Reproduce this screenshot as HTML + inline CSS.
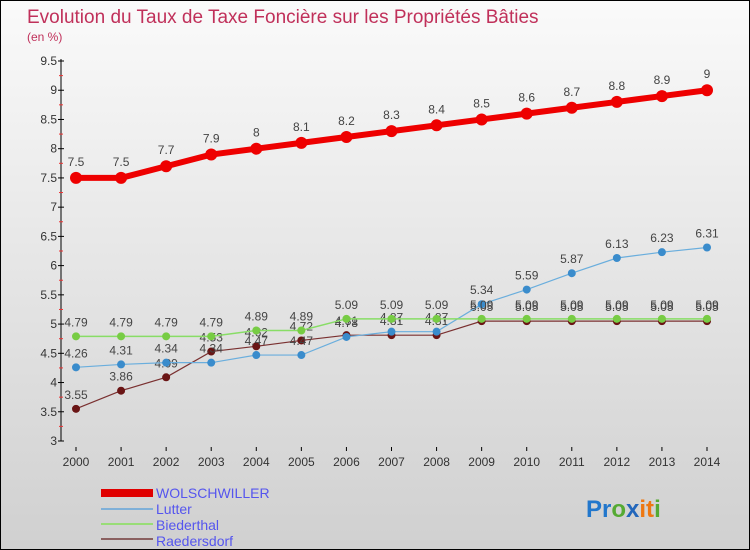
<!DOCTYPE html>
<html><head><meta charset="utf-8"><style>
body{margin:0}
#c{width:748px;height:548px;border:1px solid #000;background:linear-gradient(#fafafa,#d0d0d0);position:relative;overflow:hidden;font-family:"Liberation Sans",sans-serif}
</style></head><body>
<div id="c">
<svg id="s" width="748" height="548">
<text x="26" y="22" font-size="19" fill="#c0305a">Evolution du Taux de Taxe Foncière sur les Propriétés Bâties</text>
<text x="26" y="40" font-size="12" fill="#c0305a">(en %)</text>
<g id="ax"></g><g id="ser"></g>
<g>
<rect x="100" y="488" width="52" height="8" fill="#e00000"/>
<text x="155" y="497" font-size="14" fill="#5555ee">WOLSCHWILLER</text>
<rect x="100" y="507" width="52" height="2" fill="#7fb0d8"/>
<text x="155" y="513" font-size="14" fill="#5555ee">Lutter</text>
<rect x="100" y="522" width="52" height="2" fill="#99dd77"/>
<text x="155" y="529" font-size="14" fill="#5555ee">Biederthal</text>
<rect x="100" y="537" width="52" height="2" fill="#8a6060"/>
<text x="155" y="545" font-size="14" fill="#5555ee">Raedersdorf</text>
</g>
<text x="585" y="516" font-size="24" font-weight="bold"><tspan fill="#2277cc">Pr</tspan><tspan fill="#55aa33">o</tspan><tspan fill="#2266bb">x</tspan><tspan fill="#ee7711">it</tspan><tspan fill="#55aa33">i</tspan></text>
</svg></div>
<script>
const years=[2000,2001,2002,2003,2004,2005,2006,2007,2008,2009,2010,2011,2012,2013,2014];
const yTicks=[3,3.5,4,4.5,5,5.5,6,6.5,7,7.5,8,8.5,9,9.5];
const wolschwiller=[7.5,7.5,7.7,7.9,8,8.1,8.2,8.3,8.4,8.5,8.6,8.7,8.8,8.9,9];
const lutter=[4.26,4.31,4.34,4.34,4.47,4.47,4.78,4.87,4.87,5.34,5.59,5.87,6.13,6.23,6.31];
const biederthal=[4.79,4.79,4.79,4.79,4.89,4.89,5.09,5.09,5.09,5.09,5.09,5.09,5.09,5.09,5.09];
const raedersdorf=[3.55,3.86,4.09,4.53,4.62,4.72,4.81,4.81,4.81,5.05,5.05,5.05,5.05,5.05,5.05];
const NS="http://www.w3.org/2000/svg";
const X=i=>75+i*(706-75)/14, Y=v=>440-(v-3)*(380/6.5);
function mk(p,t,a){const e=document.createElementNS(NS,t);for(const k in a)e.setAttribute(k,a[k]);p.appendChild(e);return e;}
const ax=document.getElementById('ax'),ser=document.getElementById('ser');
const yl=mk(ax,'line',{x1:60,y1:58,x2:60,y2:440,stroke:'#000'});

yTicks.forEach(v=>{mk(ax,'line',{x1:57,x2:63,y1:Y(v),y2:Y(v),stroke:'#000'});
 if(v<9.5)mk(ax,'line',{x1:58,x2:62,y1:Y(v+0.25),y2:Y(v+0.25),stroke:'#e33'});
 const t=mk(ax,'text',{x:56,y:Y(v)+4,'font-size':12,'text-anchor':'end',fill:'#333'});t.textContent=v;
 });
years.forEach((y,i)=>{mk(ax,'line',{x1:X(i),x2:X(i),y1:446,y2:450,stroke:'#000'});
 const t=mk(ax,'text',{x:X(i),y:465,'font-size':12,'text-anchor':'middle',fill:'#333'});t.textContent=y;
 });
function series(d,name,col,dot,w,r,dy){
 const g=mk(ser,'g',{});
 mk(g,'polyline',{points:d.map((v,i)=>X(i)+','+Y(v)).join(' '),fill:'none',stroke:col,'stroke-width':w});
 d.forEach((v,i)=>{const c=mk(g,'circle',{cx:X(i),cy:Y(v),r:r,fill:dot});
  
  const t=mk(g,'text',{x:X(i),y:Y(v)-dy,'font-size':12,'text-anchor':'middle',fill:'#444'});t.textContent=v;});
}
series(raedersdorf,'raedersdorf','#7a3030','#6a1515',1.2,4,10);
series(lutter,'lutter','#6aaedd','#3a8ccc',1.2,4,10);
series(biederthal,'biederthal','#88dd66','#77cc44',1.5,4,10);
series(wolschwiller,'wolschwiller','#ee0000','#ee0000',6,6,12);
</script>
</body></html>
